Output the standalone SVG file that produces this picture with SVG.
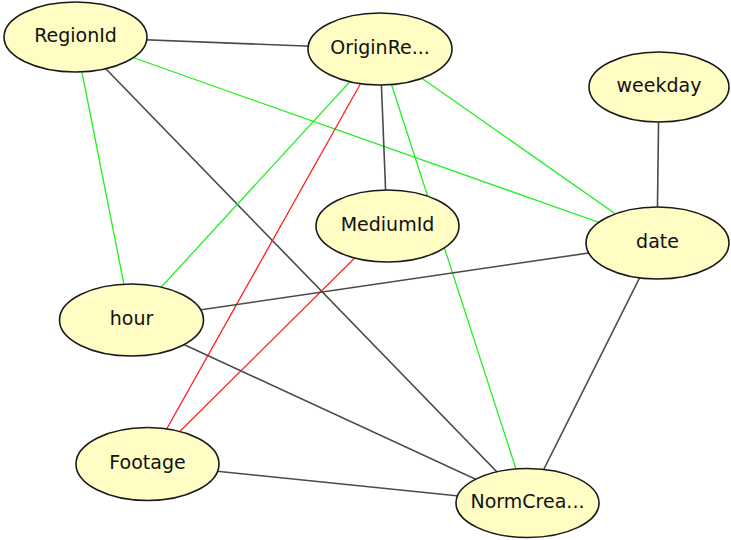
<svg xmlns="http://www.w3.org/2000/svg" width="731" height="540" viewBox="0 0 731 540">
<style>
.n ellipse{fill:#FFFCC4;stroke:#1a1a1a;stroke-width:1.6}
.n text{font-family:"DejaVu Sans",sans-serif;font-size:19px;fill:#111;text-anchor:middle}
.g{stroke:#4a4a4a;stroke-width:1.6;fill:none}
.gr{stroke:#22ee22;stroke-width:1.3;fill:none}
.r{stroke:#ff2020;stroke-width:1.3;fill:none}
</style>
<rect width="731" height="540" fill="#fff"/>
<g id="connectors">
<line class="g" x1="75" y1="37" x2="380" y2="49"/>
<line class="gr" x1="75" y1="37" x2="131" y2="320"/>
<line class="g" x1="75" y1="37" x2="527" y2="503"/>
<line class="gr" x1="75" y1="37" x2="657" y2="243"/>
<line class="gr" x1="380" y1="49" x2="131" y2="320"/>
<line class="r" x1="380" y1="49" x2="147" y2="464"/>
<line class="g" x1="380" y1="49" x2="387" y2="226"/>
<line class="gr" x1="380" y1="49" x2="527" y2="503"/>
<line class="gr" x1="380" y1="49" x2="657" y2="243"/>
<line class="g" x1="659" y1="87" x2="657" y2="243"/>
<line class="r" x1="387" y1="226" x2="147" y2="464"/>
<line class="g" x1="657" y1="243" x2="131" y2="320"/>
<line class="g" x1="657" y1="243" x2="527" y2="503"/>
<line class="g" x1="131" y1="320" x2="527" y2="503"/>
<line class="g" x1="147" y1="464" x2="527" y2="503"/>
</g>
<g id="RegionId" class="n"><ellipse cx="75.5" cy="37" rx="71.5" ry="35"/><text x="75.5" y="42">RegionId</text></g>
<g id="OriginRe" class="n"><ellipse cx="380" cy="49" rx="72" ry="36"/><text x="380" y="54">OriginRe...</text></g>
<g id="weekday" class="n"><ellipse cx="659" cy="87" rx="70" ry="35"/><text x="659" y="92">weekday</text></g>
<g id="date" class="n"><ellipse cx="657.5" cy="243" rx="71.5" ry="36"/><text x="657.5" y="248">date</text></g>
<g id="MediumId" class="n"><ellipse cx="387.5" cy="226" rx="71.5" ry="36"/><text x="387.5" y="231">MediumId</text></g>
<g id="hour" class="n"><ellipse cx="131.5" cy="320" rx="72" ry="36"/><text x="131.5" y="325">hour</text></g>
<g id="Footage" class="n"><ellipse cx="147.5" cy="464" rx="71.5" ry="36.5"/><text x="147.5" y="469">Footage</text></g>
<g id="NormCrea" class="n"><ellipse cx="527.5" cy="503" rx="71.5" ry="34.5"/><text x="527.5" y="508">NormCrea...</text></g>
</svg>
